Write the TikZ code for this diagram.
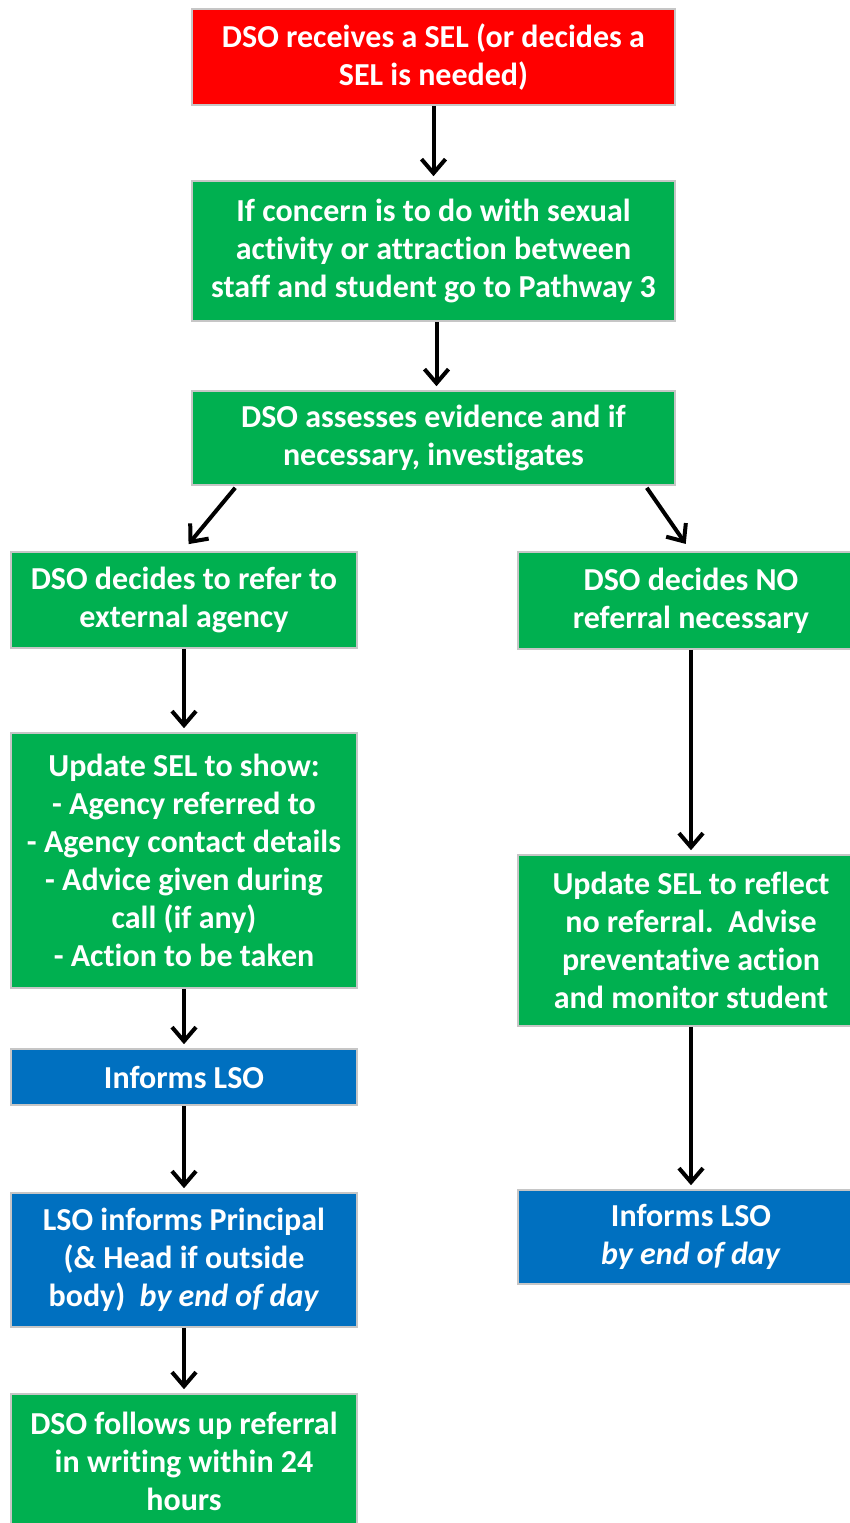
\documentclass[tikz,border=0pt]{standalone}
\usepackage{fontspec}
\setmainfont[Ligatures=NoCommon]{Carlito}
\usetikzlibrary{arrows.meta}
\tikzset{>={Straight Barb[length=7pt,width=12pt]}}
\definecolor{r1}{HTML}{FF0000}
\definecolor{g1}{HTML}{00B050}
\definecolor{b1}{HTML}{0070C0}
\tikzset{
  box/.style={draw=gray!45,line width=0.8pt,text=white,align=center,inner sep=0pt,
    font=\fontsize{16}{19}\selectfont\bfseries},
  redbox/.style={box,fill=r1,minimum width=241.5pt},
  wide/.style={box,fill=g1,minimum width=241.5pt},
  greenbox/.style={box,fill=g1,minimum width=173pt},
  bluebox/.style={box,fill=b1,minimum width=173pt},
  flow/.style={->,line width=2pt,shorten >=2pt}
}

\begin{document}
\begin{tikzpicture}[x=0.5pt,y=-0.5pt]
  \clip (0,0) rectangle (850,1523);
  % main column
  \node[redbox,minimum height=48pt] (alert) at (433.5,57)
    {DSO receives a SEL (or decides a\\SEL is needed)};
  \node[wide,minimum height=70pt] (check) at (433.5,251)
    {If concern is to do with sexual\\activity or attraction between\\staff and student go to Pathway 3};
  \node[wide,minimum height=47pt] (assess) at (433.5,438)
    {DSO assesses evidence and if\\necessary, investigates};
  % left branch
  \node[greenbox,minimum height=48pt] (refer) at (184,600)
    {DSO decides to refer to\\external agency};
  \node[greenbox,minimum height=127.5pt] (update) at (184,860.5)
    {Update SEL to show:\\- Agency referred to\\- Agency contact details\\- Advice given during\\call (if any)\\- Action to be taken};
  \node[bluebox,minimum height=28pt] (inform) at (184,1077) {Informs LSO};
  \node[bluebox,minimum height=67pt] (principal) at (184,1260)
    {LSO informs Principal\\(\& Head if outside\\body)\ \ \textit{by end of day}};
  \node[greenbox,minimum height=67pt] (followup) at (184,1461)
    {DSO follows up referral\\in writing within 24\\hours};
  % right branch
  \node[greenbox,minimum height=48.5pt] (noref) at (691,600.5)
    {DSO decides NO\\referral necessary};
  \node[greenbox,minimum height=85.5pt] (reflect) at (691,940.5)
    {Update SEL to reflect\\no referral.\ \ Advise\\preventative action\\and monitor student};
  \node[bluebox,minimum height=47pt] (informr) at (691,1237)
    {Informs LSO\\\textit{by end of day}};
  % arrows
  \draw[flow] (alert) -- (check);
  \draw[flow] ([xshift=1.5pt]check.south) -- ([xshift=1.5pt]assess.north);
  \draw[flow] ([xshift=22pt,yshift=-1pt]assess.south west) -- ([xshift=1pt,yshift=2pt]refer.north);
  \draw[flow] ([xshift=-14.5pt,yshift=-1pt]assess.south east) -- ([xshift=-1.5pt,yshift=2pt]noref.north);
  \draw[flow] (refer) -- (update);
  \draw[flow] (update) -- (inform);
  \draw[flow] (inform) -- (principal);
  \draw[flow] (principal) -- (followup);
  \draw[flow] (noref) -- (reflect);
  \draw[flow] (reflect) -- (informr);
\end{tikzpicture}
\end{document}
